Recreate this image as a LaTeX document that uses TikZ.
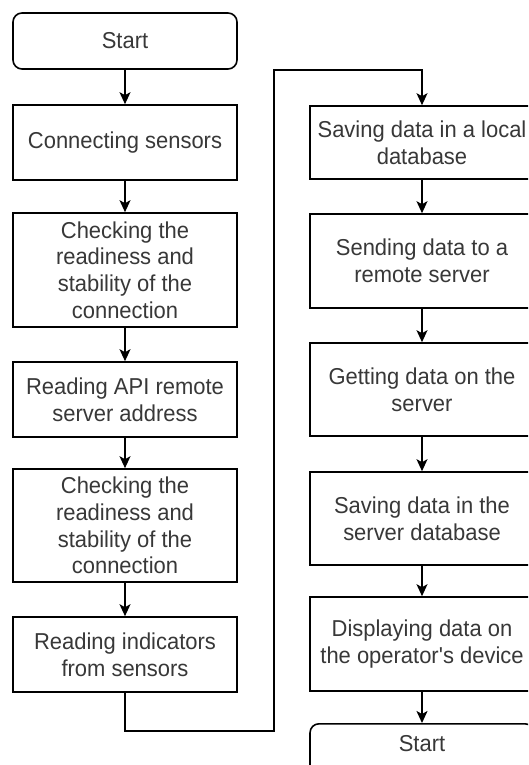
\documentclass[tikz,border=0pt]{standalone}
\usepackage{fontspec}
\newfontfamily\boxfont{Liberation Sans}[FakeStretch=0.955]
\usetikzlibrary{arrows.meta}
\begin{document}
\begin{tikzpicture}[x=1pt,y=-1pt,
  box/.style={draw=black, line width=1.6pt, fill=white, text=black!78,
    minimum width=224pt, inner sep=0pt, align=center,
    font=\boxfont\fontsize{23}{26.7}\selectfont},
  term/.style={box, rounded corners=9pt},
  flow/.style={draw=black, line width=1.6pt,
    -{Stealth[length=12pt,width=11pt,inset=3pt]}}]
\useasboundingbox (0,0) rectangle (528,765);
\begin{scope}
\clip (0,0) rectangle (528,765);
% left column
\node[term, minimum height=56pt] (start) at (125,41) {Start};
\node[box, minimum height=75pt] (conn) at (125,142.5) {Connecting sensors};
\node[box, minimum height=114pt] (chk1) at (125,270) {Checking the\\readiness and\\stability of the\\connection};
\node[box, minimum height=75pt] (api) at (125,399.5) {Reading API remote\\server address};
\node[box, minimum height=113pt] (chk2) at (125,525.5) {Checking the\\readiness and\\stability of the\\connection};
\node[box, minimum height=75pt] (ind) at (125,654.5) {Reading indicators\\from sensors};
% right column
\node[box, minimum height=73pt] (local) at (422,142.5) {Saving data in a local\\database};
\node[box, minimum height=94pt] (send) at (422,261) {Sending data to a\\remote server};
\node[box, minimum height=93pt] (get) at (422,389.5) {Getting data on the\\server};
\node[box, minimum height=93pt] (srv) at (422,518.5) {Saving data in the\\server database};
\node[box, minimum height=94pt] (disp) at (422,644) {Displaying data on\\the operator's device};
\node[term, minimum height=56pt, anchor=north] (stop) at (422,723) {};
\node[text=black!78, font=\boxfont\fontsize{23}{26.7}\selectfont] (stoplabel) at (422,744) {Start};
% connectors
\coordinate (c1) at (125,731);
\coordinate (c2) at (274,731);
\coordinate (c3) at (274,70);
\coordinate (c4) at (422,70);
\draw[flow] (start) -- (conn);
\draw[flow] (conn) -- (chk1);
\draw[flow] (chk1) -- (api);
\draw[flow] (api) -- (chk2);
\draw[flow] (chk2) -- (ind);
\draw[flow] (ind.south) -- (c1) -- (c2) -- (c3) -- (c4) -- (local.north);
\draw[flow] (local) -- (send);
\draw[flow] (send) -- (get);
\draw[flow] (get) -- (srv);
\draw[flow] (srv) -- (disp);
\draw[flow] (disp) -- (stop);
\end{scope}
\end{tikzpicture}
\end{document}
